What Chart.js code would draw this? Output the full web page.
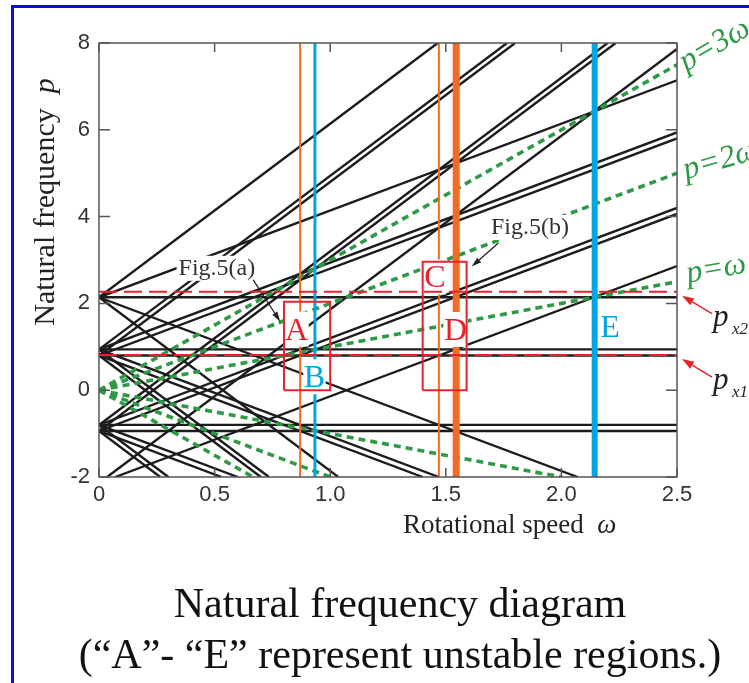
<!DOCTYPE html>
<html><head><meta charset="utf-8">
<script src="https://cdn.jsdelivr.net/npm/chart.js@4.4.1/dist/chart.umd.min.js"></script>
<style>
html,body{margin:0;padding:0;background:#fff;overflow:hidden;}
#wrap{position:relative;width:749px;height:683px;}
#c{display:block;}
#frame{position:absolute;left:11px;top:5px;width:800px;height:800px;border-left:3px solid #0a0af5;border-top:3px solid #0a0af5;pointer-events:none;}
</style></head><body>
<div id="wrap"><canvas id="c" width="749" height="683"></canvas><div id="frame"></div></div>
<script>
// ---------------- data ----------------
const xTickValues=[0,0.5,1.0,1.5,2.0,2.5];
const xTickLabels=['0','0.5','1.0','1.5','2.0','2.5'];
const yTickValues=[-2,0,2,4,6,8];
const yTickLabels=['-2','0','2','4','6','8'];

// natural-frequency lines, each [omega1, p1, omega2, p2]
const flatLines=[[0,2.14,2.5,2.14],[0,0.94,2.5,0.94],[0,0.80,2.5,0.80],[0,-0.80,2.5,-0.80],[0,-0.94,2.5,-0.94]];
const rise2Lines=[[0,2.14,2.5,7.14],[0,0.94,2.5,5.94],[0,0.80,2.5,5.80],[0,-0.80,2.5,4.20],[0,-0.94,2.5,4.06],[0.07,-2,2.5,2.86]];
const rise4Lines=[[0,2.14,1.465,8],[0,0.94,1.765,8],[0,0.80,1.80,8],[0,-0.80,2.20,8],[0,-0.94,2.235,8],[0.035,-2,2.5,7.86]];
const fall2Lines=[[0,2.14,2.07,-2],[0,0.94,1.47,-2],[0,0.80,1.40,-2],[0,-0.80,0.60,-2],[0,-0.94,0.53,-2]];
const fall4Lines=[[0,2.14,1.035,-2],[0,0.94,0.735,-2],[0,0.80,0.70,-2],[0,-0.80,0.30,-2],[0,-0.94,0.265,-2]];
// excitation lines p = k*omega (green)
const excitationLines=[[0,0,2.5,2.5],[0,0,2.5,5.0],[0,0,2.5,7.5],[0,0,2.0,-2],[0,0,1.0,-2],[0,0,0.667,-2]];
const excitationNames=['p=ω','p=2ω','p=3ω'];
// px1, px2 levels (red dashed)
const pxLevels=[2.27,0.81];
const pxNames=['x2','x1'];
// unstable-speed markers
const thinOrangeW=[0.87,1.47];
const thickOrangeW=[1.545];
const thinBlueW=[0.934];
const thickBlueW=[2.144];
// unstable region boxes [w1,p1,w2,p2]
const boxAB=[0.80,0.0,1.0,2.04];
const boxCD=[1.40,0.0,1.59,2.96];
const regionNames=['A','B','C','D','E'];
const regionW=[0.855,0.932,1.453,1.542,2.21];
const regionP=[1.42,0.32,2.62,1.41,1.47];
const figNames=['Fig.5(a)','Fig.5(b)'];
const figW=[0.51,1.864];
const figP=[2.82,3.76];
const figArrowFrom=[[0.667,2.54],[1.727,3.39]];
const figArrowTo=[[0.784,1.58],[1.612,2.85]];

// ---------------- styles ----------------
const SERIF="'Liberation Serif','Times New Roman',Times,serif";
const SANS="'Liberation Sans',Arial,Helvetica,sans-serif";
const RED='#e8212b', BLUE='#00a6e4', ORANGE='#f26b22', GREEN='#2f9a46', BLACK='#1c1c1c';

const ds=[];
function addSeg(s,style){
  ds.push(Object.assign({data:[{x:s[0],y:s[1]},{x:s[2],y:s[3]}],showLine:true,pointRadius:0,fill:false},style));
}
[flatLines,rise2Lines,rise4Lines,fall2Lines,fall4Lines].forEach(arr=>arr.forEach(s=>addSeg(s,{borderColor:BLACK,borderWidth:2.4,order:5})));
excitationLines.forEach(s=>addSeg(s,{borderColor:GREEN,borderWidth:3.6,borderDash:[7,5],order:4}));
thinOrangeW.forEach(w=>addSeg([w,-2,w,8],{borderColor:ORANGE,borderWidth:2,order:3.5}));
thinBlueW.forEach(w=>addSeg([w,-2,w,8],{borderColor:BLUE,borderWidth:3,order:3.4}));
thickOrangeW.forEach(w=>addSeg([w,-2,w,8],{borderColor:ORANGE,borderWidth:7,order:3.3}));
thickBlueW.forEach(w=>addSeg([w,-2,w,8],{borderColor:BLUE,borderWidth:6,order:3.1,labelHook:true}));
pxLevels.forEach(v=>addSeg([0,v,2.5,v],{borderColor:RED,borderWidth:2,borderDash:[18,7],order:2}));
[boxAB,boxCD].forEach(b=>ds.push({data:[{x:b[0],y:b[1]},{x:b[2],y:b[1]},{x:b[2],y:b[3]},{x:b[0],y:b[3]},{x:b[0],y:b[1]}],
  showLine:true,pointRadius:0,fill:false,borderColor:RED,borderWidth:2,borderJoinStyle:'miter',order:1}));

function arrow(ctx,x1,y1,x2,y2,color,lw,hl,hw){
  ctx.save();ctx.strokeStyle=color;ctx.fillStyle=color;ctx.lineWidth=lw;
  const ang=Math.atan2(y2-y1,x2-x1);
  const bx=x2-hl*Math.cos(ang),by=y2-hl*Math.sin(ang);
  ctx.beginPath();ctx.moveTo(x1,y1);ctx.lineTo(bx,by);ctx.stroke();
  ctx.beginPath();ctx.moveTo(x2,y2);
  ctx.lineTo(bx+hw/2*Math.sin(ang),by-hw/2*Math.cos(ang));
  ctx.lineTo(bx-hw/2*Math.sin(ang),by+hw/2*Math.cos(ang));
  ctx.closePath();ctx.fill();ctx.restore();
}
function drawRuns(ctx,runs,x,y,align){
  let w=0;runs.forEach(r=>{ctx.font=r.f;r.w=ctx.measureText(r.t).width;w+=r.w;});
  let cx=align==='center'?x-w/2:(align==='right'?x-w:x);
  ctx.textAlign='left';
  runs.forEach(r=>{ctx.font=r.f;ctx.fillText(r.t,cx,y);cx+=r.w;});
}

function drawLabels(chart){
  const {ctx,scales:{x,y}}=chart;
  ctx.save();
  ctx.textBaseline='alphabetic';ctx.textAlign='center';
  ctx.font='32px '+SERIF;
  regionNames.forEach((t,i)=>{
    const px=x.getPixelForValue(regionW[i]),py=y.getPixelForValue(regionP[i]);
    const w=ctx.measureText(t).width;
    ctx.fillStyle='#fff';ctx.fillRect(px-w/2-0.5,py-17,w+1,35);
    ctx.fillStyle=(t==='B'||t==='E')?BLUE:RED;
    ctx.fillText(t,px,py+11);
  });
  ctx.font='24px '+SERIF;
  figNames.forEach((t,i)=>{
    const px=x.getPixelForValue(figW[i]),py=y.getPixelForValue(figP[i]);
    const w=ctx.measureText(t).width;
    ctx.fillStyle='#fff';ctx.fillRect(px-w/2-2,py-12,w+4,25);
    ctx.fillStyle='#333';ctx.fillText(t,px,py+7);
    const f=figArrowFrom[i],to=figArrowTo[i];
    arrow(ctx,x.getPixelForValue(f[0]),y.getPixelForValue(f[1]),x.getPixelForValue(to[0]),y.getPixelForValue(to[1]),'#222',1.3,10,6);
  });
  ctx.restore();
}

const deco={id:'deco',
  afterDatasetDraw(chart,args){
    if(chart.data.datasets[args.index].labelHook) drawLabels(chart);
  },
  afterDraw(chart){
    const {ctx,chartArea:a,scales:{x,y}}=chart;
    ctx.save();
    ctx.strokeStyle='#555';ctx.lineWidth=1.5;
    ctx.strokeRect(a.left,a.top,a.right-a.left,a.bottom-a.top);
    ctx.beginPath();
    yTickValues.forEach(v=>{const py=y.getPixelForValue(v);ctx.moveTo(a.left,py);ctx.lineTo(a.left+11,py);ctx.moveTo(a.right,py);ctx.lineTo(a.right-11,py);});
    xTickValues.forEach(v=>{const px=x.getPixelForValue(v);ctx.moveTo(px,a.bottom);ctx.lineTo(px,a.bottom-9);ctx.moveTo(px,a.top);ctx.lineTo(px,a.top+9);});
    ctx.stroke();
    ctx.fillStyle='#222';ctx.textBaseline='alphabetic';
    // y title
    ctx.save();ctx.translate(54,a.top+159);ctx.rotate(-Math.PI/2);
    drawRuns(ctx,[{t:'Natural frequency  ',f:'30px '+SERIF},{t:'p',f:'italic 30px '+SERIF}],0,0,'center');
    ctx.restore();
    // x title
    drawRuns(ctx,[{t:'Rotational speed  ',f:'27px '+SERIF},{t:'ω',f:'italic 27px '+SERIF}],403,533,'left');
    // caption
    ctx.fillStyle='#111';
    drawRuns(ctx,[{t:'Natural frequency diagram',f:'42px '+SERIF}],400,617,'center');
    drawRuns(ctx,[{t:'(“A”- “E” represent unstable regions.)',f:'42px '+SERIF}],400,668,'center');
    // excitation labels
    const angs=[-10,-16,-30];const offs=[[11,1],[9,6],[9,7]];
    ctx.fillStyle=GREEN;
    excitationNames.forEach((t,i)=>{
      const e=excitationLines[i];
      const px=x.getPixelForValue(e[2])+offs[i][0],py=y.getPixelForValue(e[3])+offs[i][1];
      ctx.save();ctx.translate(px,py);ctx.rotate(angs[i]*Math.PI/180);
      drawRuns(ctx,[{t:t,f:'italic 32px '+SERIF}],0,0,'left');
      ctx.restore();
    });
    // px labels
    pxLevels.forEach((v,i)=>{
      const py=y.getPixelForValue(v);
      arrow(ctx,a.right+35,py+22,a.right+5,py+4,RED,1.5,12,8);
      ctx.fillStyle='#222';
      drawRuns(ctx,[{t:'p',f:'italic 31px '+SERIF}],a.right+36,py+34,'left');
      drawRuns(ctx,[{t:pxNames[i],f:'italic 17px '+SERIF}],a.right+55,py+42,'left');
    });
    ctx.restore();
  }
};

new Chart(document.getElementById('c'),{
  type:'scatter',
  data:{datasets:ds},
  options:{
    responsive:false,animation:false,devicePixelRatio:1,events:[],
    layout:{padding:{left:0,top:43,right:72,bottom:166}},
    plugins:{legend:{display:false},tooltip:{enabled:false},title:{display:false}},
    scales:{
      x:{type:'linear',position:'bottom',min:0,max:2.5,
        afterBuildTicks:s=>{s.ticks=xTickValues.map(v=>({value:v}));},
        afterFit:s=>{s.height=40;},
        grid:{display:false,drawTicks:false},border:{display:false},
        ticks:{autoSkip:false,maxRotation:0,padding:5,color:'#333',font:{family:SANS,size:22},
          callback:v=>{const i=xTickValues.findIndex(t=>Math.abs(t-v)<1e-9);return i>=0?xTickLabels[i]:'';}}},
      y:{type:'linear',position:'left',min:-2,max:8,
        afterBuildTicks:s=>{s.ticks=yTickValues.map(v=>({value:v}));},
        afterFit:s=>{s.width=99;},
        grid:{display:false,drawTicks:false},border:{display:false},
        ticks:{autoSkip:false,padding:9,color:'#333',font:{family:SANS,size:22},
          callback:v=>{const i=yTickValues.findIndex(t=>Math.abs(t-v)<1e-9);return i>=0?yTickLabels[i]:'';}}}
    }
  },
  plugins:[deco]
});
</script></body></html>
